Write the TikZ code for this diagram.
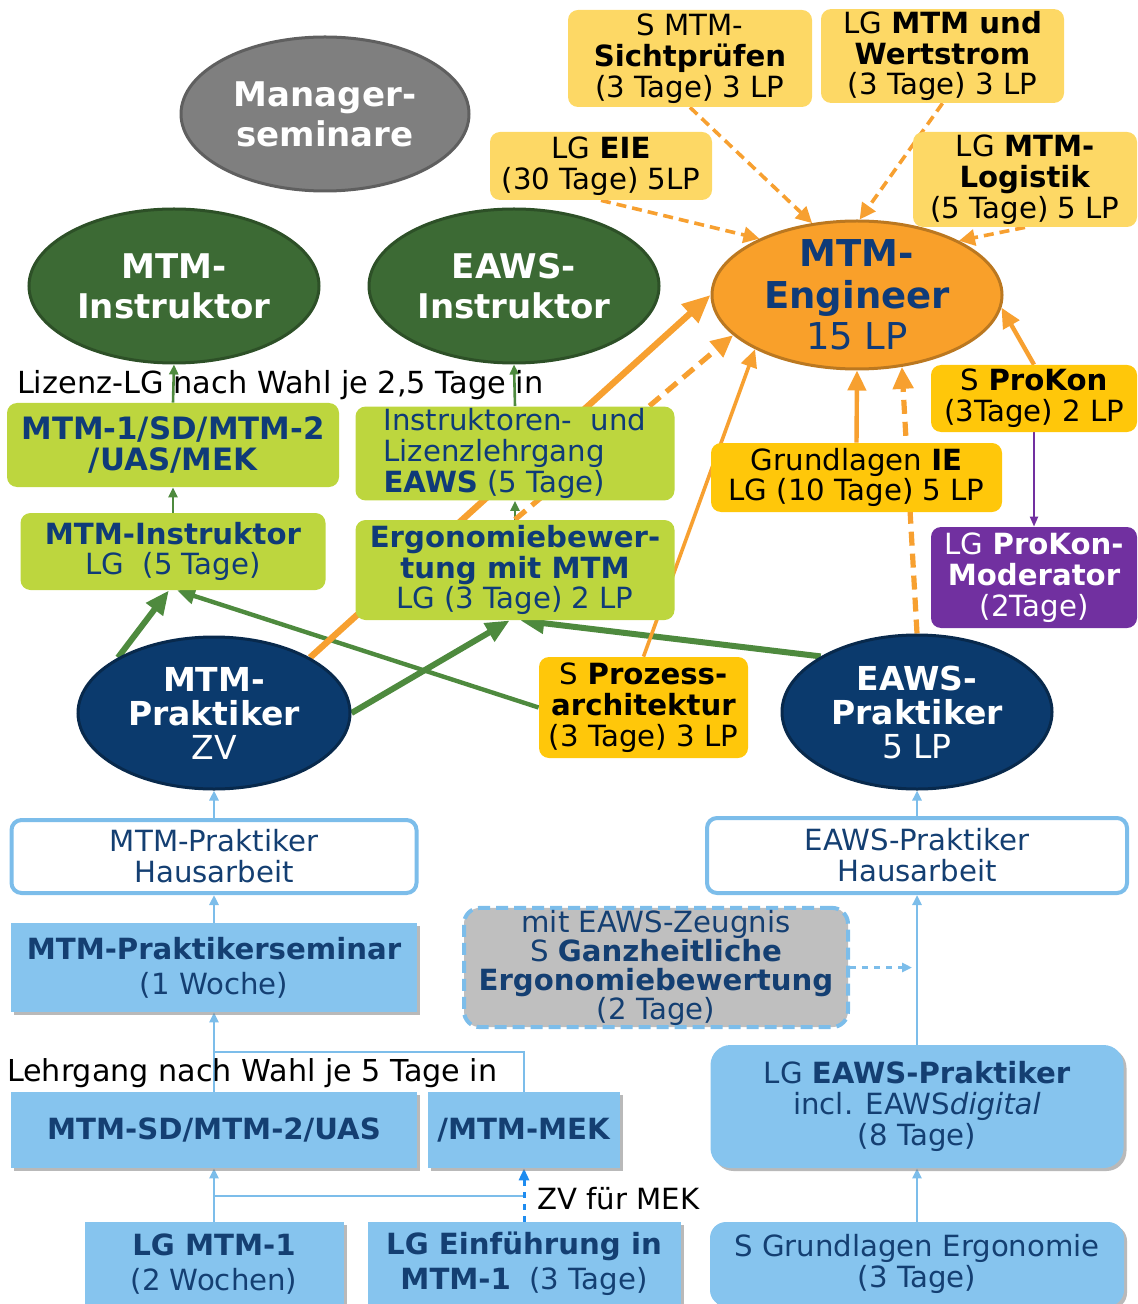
\documentclass[tikz,border=0pt]{standalone}
\usepackage{fontspec}
\setmainfont{DejaVu Sans}
\usetikzlibrary{shapes.geometric,arrows.meta,shadows}
\pgfdeclarelayer{background}
\pgfsetlayers{background,main}

\definecolor{navytxt}{HTML}{0F3B78}
\definecolor{skytxt}{HTML}{143F72}
\definecolor{ellgray}{HTML}{7F7F7F}
\definecolor{ellgreen}{HTML}{3C6A34}
\definecolor{ellorange}{HTML}{F9A02A}
\definecolor{ellnavy}{HTML}{0B3A6D}
\definecolor{limebox}{HTML}{BDD63E}
\definecolor{paleyel}{HTML}{FDD865}
\definecolor{goldbox}{HTML}{FFC70A}
\definecolor{prplbox}{HTML}{7130A0}
\definecolor{skyfill}{HTML}{86C4EE}
\definecolor{skyline}{HTML}{7CBDEA}
\definecolor{greyfill}{HTML}{BFBFBF}
\definecolor{arrgreen}{HTML}{4E8A3E}
\definecolor{arrorange}{HTML}{F7A030}
\definecolor{zvblue}{HTML}{1E8CF0}

\newcommand\bxfont{\fontsize{14.6}{15.4}\selectfont}
\newcommand\lowfont{\fontsize{14.6}{17.5}\selectfont}

\begin{document}
\begin{tikzpicture}[x=0.5pt,y=-0.5pt,
    ell/.style={ellipse,inner sep=0pt,align=center,line width=1.5pt,
        font=\fontsize{17}{20}\selectfont\bfseries},
    card/.style={rectangle,rounded corners=5pt,inner sep=1pt,align=center,font=\bxfont},
    yelcard/.style={card,fill=paleyel},
    goldcard/.style={card,fill=goldbox},
    grncard/.style={card,fill=limebox,text=navytxt},
    skycard/.style={card,sharp corners,fill=skyfill,text=skytxt,font=\lowfont,
        drop shadow={shadow xshift=1.5pt,shadow yshift=-1.5pt,opacity=.55}},
    housecard/.style={card,fill=white,draw=skyline,line width=2pt,text=skytxt},
    grnthin/.style={draw=arrgreen,line width=1.3pt,>={Triangle[length=5pt,width=4.5pt]}},
    grnmid/.style={draw=arrgreen,line width=2.2pt,>={Triangle[length=9pt,width=8pt]}},
    grnthick/.style={draw=arrgreen,line width=3pt,>={Triangle[length=12pt,width=10pt]}},
    orthick/.style={draw=arrorange,line width=3.2pt,>={Triangle[length=14pt,width=12pt]}},
    ordash/.style={draw=arrorange,line width=2.6pt,dash pattern=on 7pt off 4pt,
        >={Triangle[length=11pt,width=10pt]}},
    orthin/.style={draw=arrorange,line width=1.8pt,>={Triangle[length=9pt,width=8pt]}},
    ormid/.style={draw=arrorange,line width=2.2pt,>={Triangle[length=10pt,width=9pt]}},
    ortop/.style={draw=arrorange,line width=1.8pt,dash pattern=on 5pt off 3pt,
        >={Triangle[length=8pt,width=8pt]}},
    prplarr/.style={draw=prplbox,line width=1pt,>={Triangle[length=5pt,width=4pt]}},
    bluarr/.style={draw=skyline,line width=1.3pt,>={Triangle[length=5pt,width=4.5pt]}},
    zvarr/.style={draw=zvblue,line width=1.5pt,dashed,>={Triangle[length=6pt,width=5pt]}}]

\useasboundingbox (0,0) rectangle (1137,1304);

% ellipses
\node[ell,fill=ellgray,draw=ellgray!75!black,text=white,minimum width=144pt,minimum height=77pt]
    (mgr) at (325,114) {Manager-\\seminare};
\node[ell,fill=ellgreen,draw=ellgreen!75!black,text=white,minimum width=145pt,minimum height=77pt]
    (mtminst) at (174,286) {MTM-\\Instruktor};
\node[ell,fill=ellgreen,draw=ellgreen!75!black,text=white,minimum width=145pt,minimum height=77pt]
    (eawsinst) at (514,286) {EAWS-\\Instruktor};
\node[ell,fill=ellorange,draw=ellorange!75!black,text=navytxt,inner ysep=-5pt,
    font=\fontsize{18.5}{20.7}\selectfont,minimum width=145pt,minimum height=74pt]
    (eng) at (857,295) {\textbf{MTM-}\\\textbf{Engineer}\\15 LP};
\node[ell,fill=ellnavy,draw=ellnavy!70!black,text=white,font=\fontsize{16.5}{17}\selectfont,
    minimum width=136pt,minimum height=76pt] (mtmprak) at (214,713) {\textbf{MTM-}\\\textbf{Praktiker}\\ZV};
\node[ell,fill=ellnavy,draw=ellnavy!70!black,text=white,font=\fontsize{16.5}{17}\selectfont,
    minimum width=135pt,minimum height=77pt] (eawsprak) at (917,712) {\textbf{EAWS-}\\\textbf{Praktiker}\\5 LP};

% yellow and purple boxes
\node[yelcard,minimum width=122pt,minimum height=48.5pt] (sicht) at (690,58.5)
    {S MTM-\\\textbf{Sichtprüfen}\\(3 Tage) 3 LP};
\node[yelcard,minimum width=121.5pt,minimum height=46pt] (wert) at (942.5,56)
    {LG \textbf{MTM und}\\\textbf{Wertstrom}\\(3 Tage) 3 LP};
\node[yelcard,minimum width=111pt,minimum height=34pt] (eie) at (601,166)
    {LG \textbf{EIE}\\(30 Tage) 5LP};
\node[yelcard,minimum width=112pt,minimum height=47.5pt] (logi) at (1025,179.5)
    {LG \textbf{MTM-}\\\textbf{Logistik}\\(5 Tage) 5 LP};
\node[goldcard,minimum width=103pt,minimum height=33.5pt] (prokon) at (1034,398.5)
    {S \textbf{ProKon}\\(3Tage) 2 LP};
\node[goldcard,minimum width=145.5pt,minimum height=34.5pt] (ie) at (856.5,477.5)
    {Grundlagen \textbf{IE}\\LG (10 Tage) 5 LP};
\node[goldcard,minimum width=104.5pt,minimum height=50.5pt] (prozess) at (643.5,707.5)
    {S \textbf{Prozess-}\\\textbf{architektur}\\(3 Tage) 3 LP};
\node[card,fill=prplbox,text=white,minimum width=103pt,minimum height=50.5pt] (prokonmod) at (1034,577.5)
    {LG \textbf{ProKon-}\\\textbf{Moderator}\\(2Tage)};

% green boxes
\node[grncard,font=\fontsize{15.4}{15.4}\selectfont\bfseries,minimum width=166pt,minimum height=42pt]
    (mtm1sd) at (173,445) {MTM-1/SD/MTM-2\\/UAS/MEK};
\node[grncard,align=left,minimum width=159.5pt,minimum height=46.5pt] (instrlg) at (515,453.5)
    {Instruktoren-~ und\\Lizenzlehrgang\\\textbf{EAWS} (5 Tage)};
\node[grncard,minimum width=152.5pt,minimum height=38.5pt] (mtminstlg) at (173,551.5)
    {\textbf{MTM-Instruktor}\\LG~ (5 Tage)};
\node[grncard,minimum width=159.5pt,minimum height=50pt] (ergo) at (515,570)
    {\textbf{Ergonomiebewer-}\\\textbf{tung mit MTM}\\LG (3 Tage) 2 LP};

% blue boxes
\node[housecard,minimum width=202.5pt,minimum height=36.5pt] (mtmhaus) at (214,856.5)
    {MTM-Praktiker\\Hausarbeit};
\node[housecard,minimum width=210pt,minimum height=37.5pt] (eawshaus) at (917,855.5)
    {EAWS-Praktiker\\Hausarbeit};
\node[skycard,minimum width=203pt,minimum height=44.5pt] (seminar) at (214,967.5)
    {\textbf{MTM-Praktikerseminar}\\(1 Woche)};
\node[card,fill=greyfill,draw=skyline,line width=2pt,dash pattern=on 6pt off 3pt,rounded corners=8pt,
    text=skytxt,font=\fontsize{14.6}{14.5}\selectfont,minimum width=192pt,minimum height=59.5pt]
    (ganz) at (656,967.5) {mit EAWS-Zeugnis\\S \textbf{Ganzheitliche}\\\textbf{Ergonomiebewertung}\\(2 Tage)};
\node[skycard,minimum width=203pt,minimum height=38pt] (mtmsd) at (214,1130)
    {\textbf{MTM-SD/MTM-2/UAS}};
\node[skycard,minimum width=96pt,minimum height=38pt] (mek) at (524,1130)
    {\textbf{/MTM-MEK}};
\node[skycard,rounded corners=10pt,font=\bxfont,minimum width=206.5pt,minimum height=61.5pt] (eawslg) at (917,1106.5)
    {LG \textbf{EAWS-Praktiker}\\incl. EAWS\textit{digital}\\(8 Tage)};
\node[skycard,minimum width=129.5pt,minimum height=42pt] (lgmtm1) at (214,1264)
    {\textbf{LG MTM-1}\\(2 Wochen)};
\node[skycard,minimum width=156.5pt,minimum height=42pt] (einf) at (524,1264)
    {\textbf{LG Einführung in}\\\textbf{MTM-1}~ (3 Tage)};
\node[skycard,rounded corners=8pt,font=\fontsize{14.6}{15.5}\selectfont,minimum width=207pt,minimum height=42pt]
    (grundergo) at (917,1264) {S Grundlagen Ergonomie\\(3 Tage)};

% labels
\node[anchor=west,font=\fontsize{15.2}{16}\selectfont] (lizlbl) at (10,385) {Lizenz-LG nach Wahl je 2,5 Tage in};
\node[anchor=west,font=\fontsize{15.1}{16}\selectfont] (lglbl) at (0,1073) {Lehrgang nach Wahl je 5 Tage in};
\node[anchor=west,font=\bxfont] (zvlbl) at (530,1199) {ZV für MEK};

\coordinate (mekjoin) at (214,1052);
\coordinate (mtm1join) at (214,1196);
\coordinate (ganzend) at (912,967.5);

\begin{pgfonlayer}{background}
    \draw[grnthin,->] (mtm1sd.north) -- (mtminst.south);
    \draw[grnthin,->] (instrlg.north) -- (eawsinst.south);
    \draw[grnthin,->] (mtminstlg.north) -- (mtm1sd.south);
    \draw[grnthin,->] (ergo.north) -- (instrlg.south);
    \draw[grnthick,->] (mtmprak.150) -- (mtminstlg.-96);
    \draw[grnmid,->] (prozess.west) -- (mtminstlg.-84);
    \draw[grnthick,->] (mtmprak.east) -- (ergo.-96);
    \draw[grnthick,->] (eawsprak.150) -- (ergo.-84);

    \draw[orthick,->] (mtmprak.30) -- (eng.west);
    \draw[ordash,->] (ergo.north) -- (eng.198);
    \draw[orthin,->] (prozess.north) -- (eng.208);
    \draw[ormid,->] (ie.north) -- (eng.south);
    \draw[ordash,->] (eawsprak.north) -- (eng.302);
    \draw[ormid,->] (prokon.north) -- (eng.-5);
    \draw[ortop,->] (sicht.south) -- (eng.122);
    \draw[ortop,->] (wert.south) -- (eng.88);
    \draw[ortop,->] (eie.south) -- (eng.150);
    \draw[ortop,->] (logi.south) -- (eng.28);
    \draw[prplarr,->] (prokon.south) -- (prokonmod.north);

    \draw[bluarr,->] (mtmhaus.north) -- (mtmprak.south);
    \draw[bluarr,->] (seminar.north) -- (mtmhaus.south);
    \draw[bluarr,->] (mtmsd.north) -- (seminar.south);
    \draw[bluarr] (mek.north) |- (mekjoin);
    \draw[bluarr,->] (lgmtm1.north) -- (mtmsd.south);
    \draw[bluarr] (mtm1join) -- (mtm1join -| einf.north);
    \draw[zvarr,->] (einf.north) -- (mek.south);
    \draw[bluarr,->] (grundergo.north) -- (eawslg.south);
    \draw[bluarr,->] (eawslg.north) -- (eawshaus.south);
    \draw[bluarr,->] (eawshaus.north) -- (eawsprak.south);
    \draw[bluarr,dashed,->] (ganz.east) -- (ganzend);
\end{pgfonlayer}
\end{tikzpicture}
\end{document}
